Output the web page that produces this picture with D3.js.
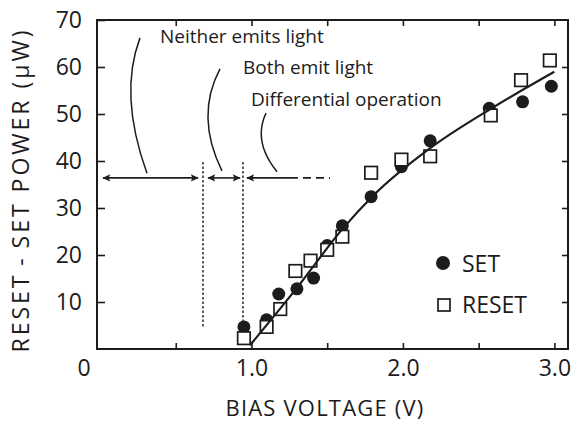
<!DOCTYPE html>
<html>
<head>
<meta charset="utf-8">
<script src="https://cdn.jsdelivr.net/npm/d3@7"></script>
<style>
  html, body { margin: 0; padding: 0; background: #fff; }
  svg { display: block; font-family: 'Open Sans', sans-serif; }
</style>
</head>
<body>
<svg id="chart" width="571" height="423"></svg>
<script>
// data
const setV = [0.95, 1.10, 1.18, 1.30, 1.41, 1.50, 1.60, 1.79, 1.99, 2.18, 2.57, 2.79, 2.98];
const setP = [4.7, 6.2, 11.7, 12.8, 15.1, 22.0, 26.2, 32.4, 38.8, 44.3, 51.2, 52.6, 55.9];
const resetV = [0.95, 1.10, 1.19, 1.29, 1.39, 1.50, 1.60, 1.79, 1.99, 2.18, 2.58, 2.78, 2.97];
const resetP = [2.3, 4.7, 8.5, 16.6, 18.8, 21.1, 23.9, 37.5, 40.3, 41.0, 49.7, 57.2, 61.4];
const fitV = [0.99, 1.3, 1.6, 1.8, 2.2, 2.6, 3.0];
const fitP = [0.8, 13, 25.5, 32.5, 43.2, 51.5, 59];
const xTicks = [0, 0.5, 1.0, 1.5, 2.0, 2.5, 3.0];
const xTickLabels = ['0', '', '1.0', '', '2.0', '', '3.0'];
const yTicks = [10, 20, 30, 40, 50, 60, 70];

// annotation (data units)
const regionLabels = ['Neither emits light', 'Both emit light', 'Differential operation'];
const labelV = [0.396, 0.944, 0.997];
const labelP = [65.1, 58.5, 51.7];
const leaderArcs = [
    [[0.264, 66.2], [0.122, 54.1], [0.310, 37.4]],
    [[0.792, 59.6], [0.627, 49.6], [0.805, 37.9]],
    [[1.096, 50.2], [1.007, 44.1], [1.169, 37.7]]
];
const arrowLevel = 36.4;
const boundaries = [0.68, 0.944];
const boundaryBottom = [4.7, 4.0];
const boundaryTop = 39.8;

const svg = d3.select('#chart');
const ink = '#1c1c1c';
const margin = { left: 97, right: 3, top: 20, bottom: 74 };
const width = 571, height = 423;

const x = d3.scaleLinear().domain([-0.02, 3.09]).range([margin.left, width - margin.right]);
const y = d3.scaleLinear().domain([0, 70]).range([height - margin.bottom, margin.top]);

// axes with inward ticks
const xAxis = d3.axisBottom(x).tickValues(xTicks.slice(1)).tickSize(-6).tickPadding(11)
    .tickFormat((d) => xTickLabels[xTicks.indexOf(d)]);
const gx = svg.append('g').attr('transform', `translate(0,${y(0)})`).call(xAxis);
gx.append('g').attr('class', 'tick').append('text')
    .attr('x', x(0) - 16).attr('y', 11).attr('dy', '0.71em').attr('text-anchor', 'middle').text('0');
svg.append('g').attr('transform', `translate(0,${y(70)})`)
    .call(d3.axisTop(x).tickValues(xTicks.slice(1)).tickSize(-6).tickFormat(''));
svg.append('g').attr('transform', `translate(${x.range()[0]},0)`)
    .call(d3.axisLeft(y).tickValues(yTicks).tickSize(-8).tickPadding(15));
svg.append('g').attr('transform', `translate(${x.range()[1]},0)`)
    .call(d3.axisRight(y).tickValues(yTicks.slice(0, 6)).tickSize(-6).tickFormat(''));
svg.selectAll('.domain').remove();
svg.selectAll('.tick line').attr('stroke', ink).attr('stroke-width', 1.6);
svg.selectAll('.tick text').attr('fill', ink).style('font-size', '23px').style('font-family', 'Open Sans');

// frame
svg.append('rect')
    .attr('x', x.range()[0]).attr('y', y.range()[1])
    .attr('width', x.range()[1] - x.range()[0]).attr('height', y.range()[0] - y.range()[1])
    .attr('fill', 'none').attr('stroke', ink).attr('stroke-width', 2);

// axis titles
svg.append('text')
    .attr('x', 325).attr('y', 416).attr('text-anchor', 'middle')
    .attr('fill', ink).style('font-size', '22px').style('letter-spacing', '1.2px')
    .text('BIAS VOLTAGE (V)');
svg.append('text')
    .attr('transform', 'translate(29,190) rotate(-90)').attr('text-anchor', 'middle')
    .attr('fill', ink).style('font-size', '23px').style('letter-spacing', '3px')
    .text('RESET\u2009-\u2009SET POWER (\u03bcW)');

// arrow markers
const defs = svg.append('defs');
defs.append('marker').attr('id', 'head').attr('viewBox', '0 -5 10 10')
    .attr('refX', 9).attr('refY', 0).attr('markerWidth', 10).attr('markerHeight', 8)
    .attr('markerUnits', 'userSpaceOnUse').attr('orient', 'auto-start-reverse')
    .append('path').attr('d', 'M0,-4.5L10,0L0,4.5L2,0Z').attr('fill', ink);

const ay = y(arrowLevel);
const arrows = [[0.02, 0.647], [0.713, 0.924]];
arrows.forEach(([a, b]) => {
    svg.append('line').attr('x1', x(a)).attr('x2', x(b)).attr('y1', ay).attr('y2', ay)
        .attr('stroke', ink).attr('stroke-width', 1.6)
        .attr('marker-start', 'url(#head)').attr('marker-end', 'url(#head)');
});
svg.append('line').attr('x1', x(1.254)).attr('x2', x(0.97)).attr('y1', ay).attr('y2', ay)
    .attr('stroke', ink).attr('stroke-width', 1.6).attr('marker-end', 'url(#head)');
svg.append('line').attr('x1', x(1.254)).attr('x2', x(1.518)).attr('y1', ay).attr('y2', ay)
    .attr('stroke', ink).attr('stroke-width', 1.6).attr('stroke-dasharray', '8,5');

boundaries.forEach((b, i) => {
    svg.append('line').attr('x1', x(b)).attr('x2', x(b))
        .attr('y1', y(boundaryTop)).attr('y2', y(boundaryBottom[i]))
        .attr('stroke', ink).attr('stroke-width', 1.4).attr('stroke-dasharray', '2.5,2');
});

leaderArcs.forEach(([p0, c, p2]) => {
    const path = d3.path();
    path.moveTo(x(p0[0]), y(p0[1]));
    path.quadraticCurveTo(x(c[0]), y(c[1]), x(p2[0]), y(p2[1]));
    svg.append('path').attr('d', path.toString()).attr('fill', 'none')
        .attr('stroke', ink).attr('stroke-width', 1.5);
});

regionLabels.forEach((t, i) => {
    svg.append('text').attr('x', x(labelV[i])).attr('y', y(labelP[i]))
        .attr('fill', ink).style('font-size', '19px').text(t);
});

// data points
svg.append('g').selectAll('circle').data(setV).join('circle')
    .attr('cx', (d) => x(d)).attr('cy', (d, i) => y(setP[i])).attr('r', 6.5).attr('fill', ink);
const sq = 12.5;
svg.append('g').selectAll('rect').data(resetV).join('rect')
    .attr('x', (d) => x(d) - sq / 2).attr('y', (d, i) => y(resetP[i]) - sq / 2)
    .attr('width', sq).attr('height', sq)
    .attr('fill', '#fff').attr('stroke', ink).attr('stroke-width', 1.7);

// fitted curve
const line = d3.line().x((d) => x(d)).y((d, i) => y(fitP[i])).curve(d3.curveMonotoneX);
svg.append('path').datum(fitV).attr('d', line).attr('fill', 'none')
    .attr('stroke', ink).attr('stroke-width', 2.2);

// legend
svg.append('circle').attr('cx', 443).attr('cy', 263).attr('r', 7).attr('fill', ink);
svg.append('text').attr('x', 462).attr('y', 272).attr('fill', ink).style('font-size', '23px').text('SET');
svg.append('rect').attr('x', 438).attr('y', 299).attr('width', 12).attr('height', 12)
    .attr('fill', '#fff').attr('stroke', ink).attr('stroke-width', 1.7);
svg.append('text').attr('x', 462).attr('y', 313).attr('fill', ink).style('font-size', '23px').text('RESET');
</script>
</body>
</html>
